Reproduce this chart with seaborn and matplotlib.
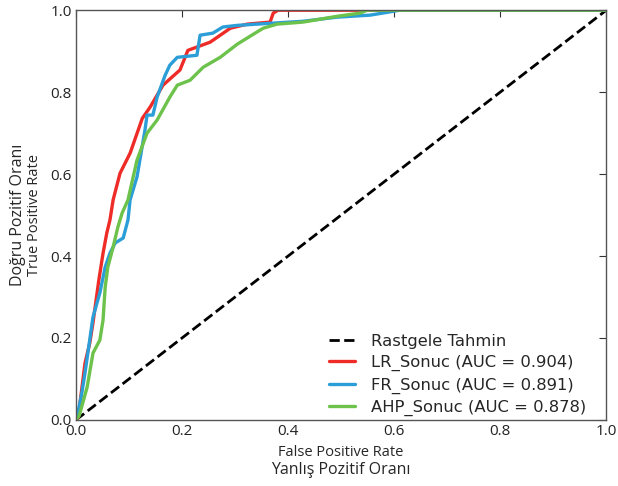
import matplotlib
matplotlib.use("Agg")
import matplotlib.pyplot as plt
import seaborn as sns
import pandas as pd

# ROC points
lr_fpr = [0.0, 0.004, 0.017, 0.026, 0.032, 0.043, 0.051, 0.058, 0.064, 0.070, 0.083, 0.102,
          0.125, 0.140, 0.164, 0.196, 0.211, 0.253, 0.291, 0.323, 0.366, 0.372, 0.381, 1.0]
lr_tpr = [0.0, 0.005, 0.139, 0.188, 0.237, 0.341, 0.407, 0.456, 0.488, 0.537, 0.602, 0.651,
          0.736, 0.764, 0.817, 0.854, 0.902, 0.922, 0.956, 0.966, 0.971, 0.993, 1.0, 1.0]

fr_fpr = [0.0, 0.004, 0.011, 0.017, 0.032, 0.045, 0.055, 0.064, 0.074, 0.089, 0.098, 0.102,
          0.115, 0.130, 0.134, 0.145, 0.153, 0.168, 0.177, 0.191, 0.228, 0.234, 0.258, 0.277,
          0.304, 0.366, 0.428, 0.492, 0.555, 0.611, 1.0]
fr_tpr = [0.0, 0.02, 0.066, 0.115, 0.251, 0.310, 0.373, 0.407, 0.432, 0.444, 0.488, 0.537,
          0.593, 0.707, 0.744, 0.744, 0.788, 0.841, 0.866, 0.885, 0.890, 0.939, 0.944, 0.959,
          0.963, 0.968, 0.973, 0.983, 0.988, 1.0, 1.0]

ahp_fpr = [0.0, 0.006, 0.021, 0.032, 0.045, 0.051, 0.055, 0.060, 0.070, 0.079, 0.087, 0.098,
           0.115, 0.134, 0.153, 0.177, 0.191, 0.215, 0.240, 0.272, 0.304, 0.334, 0.353, 0.379,
           0.428, 0.492, 0.536, 0.549, 1.0]
ahp_tpr = [0.0, 0.01, 0.080, 0.163, 0.195, 0.244, 0.324, 0.373, 0.422, 0.471, 0.505, 0.537,
           0.634, 0.700, 0.732, 0.788, 0.817, 0.829, 0.861, 0.885, 0.917, 0.941, 0.956, 0.966,
           0.971, 0.985, 0.993, 1.0, 1.0]

model_names = ["LR_Sonuc", "FR_Sonuc", "AHP_Sonuc"]
auc_values = [0.904, 0.891, 0.878]
colors = ["#ee2b26", "#2b9ed8", "#6cc24a"]

frames = []
for name, fpr, tpr in zip(model_names, [lr_fpr, fr_fpr, ahp_fpr], [lr_tpr, fr_tpr, ahp_tpr]):
    frames.append(pd.DataFrame({"fpr": fpr, "tpr": tpr, "model": name}))
df = pd.concat(frames, ignore_index=True)

sns.set_style("white")
plt.rcParams["font.family"] = ["Open Sans", "DejaVu Sans"]

fig = plt.figure(figsize=(6.18, 4.86), dpi=100)
ax = fig.add_axes([0.123, 0.136, 0.858, 0.843])

ax.plot([0, 1], [0, 1], "k--", lw=2, label="Rastgele Tahmin")
sns.lineplot(data=df, x="fpr", y="tpr", hue="model", palette=colors, sort=False,
             estimator=None, units="model", lw=2.4, ax=ax, legend=False)

handles = [ax.lines[0]] + list(ax.lines[1:4])
labels = ["Rastgele Tahmin"] + [f"{n} (AUC = {a:.3f})" for n, a in zip(model_names, auc_values)]
ax.legend(handles, labels, loc="lower right", frameon=False,
          prop={"family": "DejaVu Sans", "size": 11.8},
          handlelength=1.6, handletextpad=0.95, labelspacing=0.38,
          bbox_to_anchor=(0.99, -0.027))

ax.set_xlim(0, 1)
ax.set_ylim(0, 1)
ax.set_xticks([0, 0.2, 0.4, 0.6, 0.8, 1.0])
ax.set_yticks([0, 0.2, 0.4, 0.6, 0.8, 1.0])
ax.tick_params(direction="in", top=True, right=True, length=5, width=0.8,
               labelsize=11, colors="#333333", pad=3)
ax.tick_params(labelcolor="#222222")
for s in ax.spines.values():
    s.set_color("#555555")
    s.set_linewidth(1.0)

ax.set_xlabel("")
ax.set_ylabel("")
ax.text(0.5, -0.08, "False Positive Rate", transform=ax.transAxes, ha="center", va="center", fontsize=10.5)
ax.text(0.5, -0.122, "Yanlış Pozitif Oranı", transform=ax.transAxes, ha="center", va="center", fontsize=11.5)
ax.text(-0.078, 0.5, "True Positive Rate", transform=ax.transAxes, ha="center", va="center",
        fontsize=10.5, rotation=90)
ax.text(-0.11, 0.5, "Doğru Pozitif Oranı", transform=ax.transAxes, ha="center", va="center",
        fontsize=11.5, rotation=90)

fig.savefig("out.png", dpi=100)
